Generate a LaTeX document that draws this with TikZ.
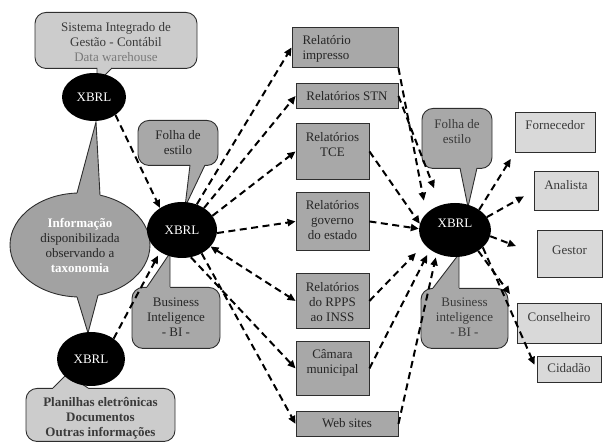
\documentclass[tikz,border=0pt]{standalone}
\usepackage{fontspec}
\setmainfont{Liberation Serif}
\usetikzlibrary{arrows.meta,shapes.geometric}
\definecolor{lg}{HTML}{CCCCCC}
\definecolor{lb}{HTML}{D9D9D9}
\definecolor{mg}{HTML}{A8A8A8}
\definecolor{eg}{HTML}{A2A2A2}
\definecolor{bd}{HTML}{2E2E2E}
\definecolor{tx}{HTML}{3A3A3A}
\definecolor{tw}{HTML}{7A7A7A}
\begin{document}
\begin{tikzpicture}[x=1pt,y=-1pt,
  font=\fontsize{13}{15}\selectfont,
  bx/.style={draw=bd, line width=0.9pt, inner sep=0pt, anchor=north, align=center},
  mbox/.style={bx, fill=mg, text=black!85},
  lbox/.style={bx, fill=lb, text=tx},
  cl/.style={bx, rounded corners=11pt},
  xbrl/.style={ellipse, fill=black, text=white, inner sep=0pt},
  conn/.style={line width=2pt, dash pattern=on 7pt off 4.5pt, -{Triangle[length=8pt,width=7pt]}},
  tl/.style={draw=bd, line width=0.9pt},
]
\useasboundingbox (0,0) rectangle (603,443);

% top callout
\node[cl, fill=lg, text=tx, minimum width=162pt, text height=49pt, text depth=7pt] (sis) at (116,12)
  {Sistema Integrado de\\Gestão - Contábil\\\textcolor{tw}{Data warehouse}};
\fill[lg] (97,65) -- (112,65) -- (112,68.5) -- (97,83) -- cycle;
\draw[tl] (97,68) -- (97,83) -- (112,68);

% bottom callout
\node[cl, fill=lg, text=tx, font=\fontsize{13}{15}\selectfont\bfseries, minimum width=149pt, text height=48pt, text depth=5pt] (plan) at (100.5,388)
  {Planilhas eletrônicas\\Documentos\\Outras informações};
\fill[lg] (53,391) -- (88,391) -- (88,387.5) -- (67,374) -- (53,387.5) -- cycle;
\draw[tl] (53,388) -- (67,374) -- (88,388);

% information ellipse
\node[ellipse, draw=bd, line width=0.9pt, fill=eg, inner sep=0pt, minimum width=140pt, minimum height=104pt, align=center, text=black!85] (info) at (80,245)
  {\textbf{\textcolor{white}{Informação}}\\disponibilizada\\observando a\\\textbf{\textcolor{white}{taxonomia}}};
\fill[eg] (77,200) -- (100,200) -- (100,194.7) -- (96,122) -- (77,192.6) -- cycle;
\draw[tl] (77,193.1) -- (96,122) -- (100,195.2);
\fill[eg] (77,290) -- (98,290) -- (98,295.8) -- (88,333) -- (77,297.5) -- cycle;
\draw[tl] (77,296.9) -- (88,333) -- (98,295.3);

% middle callouts
\node[cl, fill=mg, text=black!85, minimum width=80pt, text height=34.5pt, text depth=10.5pt] (fm) at (178,120) {Folha de\\estilo};
\fill[mg] (190,162) -- (205,162) -- (205,165.5) -- (185,207) -- (190,165.5) -- cycle;
\draw[tl] (190,165) -- (185,207) -- (205,165);

\node[cl, fill=mg, text=black!85, minimum width=88pt, text height=49pt, text depth=12pt] (bim) at (176,287) {Business\\Inteligence\\- BI -};
\fill[mg] (147,290) -- (170,290) -- (170,253) -- (147,286.5) -- cycle;
\draw[tl] (147,287) -- (170,253) -- (170,287);

% right callouts
\node[cl, fill=mg, text=tx, minimum width=70pt, text height=35pt, text depth=25pt] (fr) at (457,108) {Folha de\\estilo};
\fill[mg] (460,165) -- (477,165) -- (477,168.5) -- (468,207) -- (460,168.5) -- cycle;
\draw[tl] (460,168) -- (468,207) -- (477,168);

\node[cl, fill=mg, text=tx, minimum width=87pt, text height=48pt, text depth=12pt] (bir) at (464.5,288) {Business\\inteligence\\- BI -};
\fill[mg] (433,291) -- (459,291) -- (459,254) -- (433,287.5) -- cycle;
\draw[tl] (433,288) -- (459,254) -- (459,288);

% middle boxes
\node[mbox, minimum width=106pt, text width=85pt, align=left, text height=17.5pt, text depth=22.5pt] (b1) at (345,27) {Relatório\\impresso};
\node[mbox, minimum width=102pt, text height=17.5pt, text depth=7.5pt] (b2) at (347,83) {Relatórios STN};
\node[mbox, minimum width=73pt, text height=33.5pt, text depth=22.5pt] (b3) at (332.5,123) {Relatórios\\TCE};
\node[mbox, minimum width=73pt, text height=47.5pt, text depth=10.5pt] (b4) at (332.5,192) {Relatórios\\governo\\do estado};
\node[mbox, minimum width=73pt, text height=48.5pt, text depth=6.5pt] (b5) at (332.5,273) {Relatórios\\do RPPS\\ao INSS};
\node[mbox, minimum width=73pt, text height=32.5pt, text depth=21.5pt] (b6) at (332.5,341) {Câmara\\municipal};
\node[mbox, minimum width=102pt, text height=16.5pt, text depth=8.5pt] (b7) at (347,411) {Web sites};

% right boxes
\node[lbox, minimum width=80pt, text height=17.5pt, text depth=22.5pt] (f) at (555,112) {Fornecedor};
\node[lbox, minimum width=64pt, text height=18.5pt, text depth=20.5pt] (a) at (566,171) {Analista};
\node[lbox, minimum width=65pt, text height=24.5pt, text depth=22.5pt] (g) at (569.5,230) {Gestor};
\node[lbox, minimum width=84pt, text height=18.5pt, text depth=21.5pt] (c) at (559,303) {Conselheiro};
\node[lbox, minimum width=64pt, text height=16.5pt, text depth=9.5pt] (d) at (569,356) {Cidadão};

% XBRL ellipses
\node[xbrl, minimum width=64pt, minimum height=48pt] (xt) at (94,97) {XBRL};
\node[xbrl, minimum width=70pt, minimum height=56pt] (xm) at (182,230) {XBRL};
\node[xbrl, minimum width=72pt, minimum height=54pt, text height=9.2pt, text depth=14pt] (xr) at (455,230) {XBRL};
\node[xbrl, minimum width=68pt, minimum height=54pt] (xb) at (91,359) {XBRL};

% connectors
\draw[conn] (xt.-40) -- (xm.135);
\draw[conn, shorten >=4pt] (xb.42) -- (xm.225);
\draw[conn] (xm.60) -- (b1.west);
\draw[conn] (xm.45) -- (b2.west);
\draw[conn] (xm.25) -- (b3.west);
\draw[conn] (xm.-5) -- (b4.west);
\draw[conn, {Triangle[length=8pt,width=7pt]}-{Triangle[length=8pt,width=7pt]}] (xm.-30) -- (b5.west);
\draw[conn] (xm.-50) -- (b7.west);
\draw[conn] (xm.-72) -- (b6.west);

\draw[conn, shorten >=13pt] (b1.south east) -- (xr.150);
\draw[conn, shorten >=18pt] (b2.east) -- (xr.120);
\draw[conn] (b3.east) -- (xr.170);
\draw[conn] (b4.east) -- (xr.178);
\draw[conn, shorten >=12pt] (b5.east) -- (xr.205);
\draw[conn, shorten >=6pt] (b6.east) -- (xr.218);
\draw[conn, shorten >=4pt] (b7.east) -- (xr.232);

\draw[conn, shorten >=7pt] (xr.40) -- (f.south west);
\draw[conn, shorten >=11pt] (xr.22) -- (a.west);
\draw[conn, shorten >=22pt] (xr.-10) -- (g.west);
\draw[conn, shorten >=11pt] (xr.-42) -- (c.north west);
\draw[conn, shorten >=5pt] (xr.-32) -- (d.west);
\end{tikzpicture}
\end{document}
